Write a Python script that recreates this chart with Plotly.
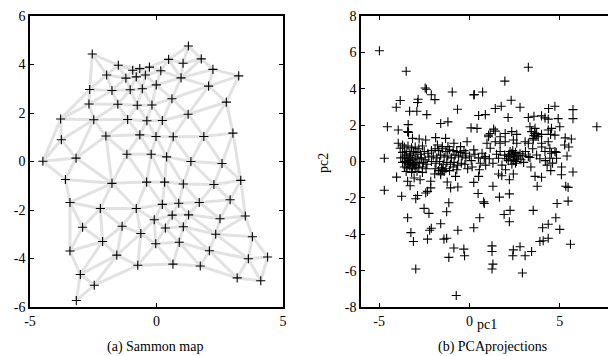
import plotly.graph_objects as go

# ---------------- data: (a) Sammon map (node positions) ----------------
sammon_x = [-2.54, 1.26, 1.77, 0.48, 1.05, -1.51, -0.94, -0.66, -0.28, 0.17,
            2.23, 3.25, -1.97, -1.21, -0.80, -0.44, 0.97, -0.01, 2.06, -2.64,
            -1.76, -1.04, -0.56, 0.61, 2.76, -2.67, -1.53, -0.76, -0.18, 1.25,
            -3.79, -2.48, -1.14, -0.38, 0.23, 3.02, -3.76, -2.00, -0.66, -0.02,
            0.66, 1.87, -4.49, -3.18, -1.17, -0.21, 0.40, 1.36, 2.59, 3.33,
            -3.60, -1.76, -0.39, 0.32, 1.06, 2.27, -3.42, -2.22, -0.80, 0.23,
            0.88, 1.69, 2.91, 0.62, 1.27, 3.51, -0.09, 2.51, -2.92, -1.36,
            0.35, 1.06, -0.62, 2.34, 3.79, -2.13, -0.03, 0.90, -3.42, 2.09,
            -1.57, 3.63, 4.39, -0.74, 0.65, 1.73, -3.01, -2.46, 3.19, 4.12,
            -3.17]
sammon_y = [4.43, 4.76, 4.23, 4.21, 4.05, 3.97, 3.76, 3.83, 3.89, 3.74,
            3.80, 3.53, 3.57, 3.44, 3.49, 3.57, 3.45, 3.16, 3.11, 2.97,
            2.93, 2.96, 3.00, 2.59, 2.45, 2.37, 2.36, 2.32, 2.33, 1.95,
            1.75, 1.72, 1.73, 1.68, 1.69, 1.17, 0.90, 1.05, 1.10, 1.03,
            1.02, 1.03, 0.01, 0.14, 0.30, 0.30, 0.19, 0.00, -0.08, -0.78,
            -0.74, -0.90, -0.85, -0.85, -0.93, -0.95, -1.69, -1.94, -1.94, -1.77,
            -1.72, -1.69, -1.58, -2.21, -2.20, -2.25, -2.40, -2.36, -2.71, -2.67,
            -2.74, -2.69, -2.97, -3.00, -3.10, -3.30, -3.39, -3.33, -3.69, -3.68,
            -3.86, -4.01, -3.94, -4.28, -4.23, -4.31, -4.66, -5.10, -4.80, -4.92,
            -5.73]

# ---------------- data: (b) PCA projections (pc1, pc2) ----------------
pca_upper = [(-4.98, 6.09), (-3.50, 4.96), (3.26, 5.18), (1.96, 4.42), (-2.45, 4.04),
             (-2.38, 3.97), (-2.11, 3.67), (-1.91, 3.40), (-2.84, 3.42), (-2.87, 3.24),
             (-3.83, 3.35), (-4.05, 2.98), (-3.31, 2.76), (-2.91, 2.76), (-2.36, 2.58),
             (-0.95, 3.82), (-0.66, 2.87), (0.24, 3.66), (0.27, 3.68), (0.73, 3.82),
             (0.51, 2.53), (0.88, 2.58), (1.43, 2.91), (1.76, 3.04), (2.31, 3.37),
             (2.80, 2.98), (2.14, 2.42), (3.26, 2.42), (3.57, 2.49), (3.99, 2.51),
             (4.18, 2.40), (4.36, 2.33), (4.38, 2.91), (4.73, 3.04), (5.73, 2.85),
             (5.73, 2.36), (4.91, 2.36), (7.05, 1.91), (-4.54, 1.91), (-3.94, 1.73),
             (-3.39, 2.03), (-3.42, 1.64), (-3.37, 1.60), (-1.59, 2.09), (-1.19, 2.18),
             (0.09, 1.85), (0.42, 1.82), (1.06, 1.45)]
pca_right_band = [(1.34, 1.78), (1.43, 1.67), (1.15, 1.54), (1.06, 1.36), (1.70, 1.36),
                  (1.98, 1.54), (2.34, 1.64), (2.62, 1.49), (1.43, 1.09), (1.70, 1.00),
                  (1.98, 1.09), (2.43, 1.18), (2.62, 1.00), (3.08, 1.09), (3.35, 1.91),
                  (3.63, 1.82), (3.44, 1.64), (3.72, 1.54), (3.53, 1.27), (3.81, 1.36),
                  (3.99, 1.49), (3.57, 1.42), (3.60, 1.55), (3.68, 1.40), (4.36, 1.73),
                  (4.54, 1.82), (4.49, 1.49), (4.73, 1.45), (5.00, 1.91), (5.27, 0.91),
                  (5.64, 1.24), (3.99, 1.00), (4.36, 1.09), (4.45, 0.73), (4.18, 0.55),
                  (4.54, 0.45), (4.73, 0.55), (3.26, 1.00), (3.53, 1.18), (3.26, 0.27),
                  (3.72, 0.36), (4.82, 0.18), (4.45, 0.18), (1.15, 0.73), (1.70, 0.55),
                  (1.61, 0.18), (0.88, 0.27), (0.97, 1.00), (0.24, 0.64)]
pca_right_cluster = [(2.25, 0.55), (2.43, 0.36), (2.16, 0.27), (2.62, 0.18), (2.80, 0.45),
                     (2.35, 0.45), (2.50, 0.25), (2.30, 0.10), (2.55, 0.50), (2.45, 0.05),
                     (2.20, 0.40), (2.70, 0.30), (2.40, 0.60), (2.60, 0.00), (2.15, 0.05),
                     (2.85, 0.10), (2.35, -0.15), (2.55, -0.10), (2.05, 0.15), (3.00, -0.05),
                     (2.95, 0.35), (0.55, -0.45), (0.90, -0.20), (1.10, 0.15), (1.30, -0.10),
                     (1.50, 0.40), (1.80, -0.20), (1.95, 0.35), (2.00, -0.45), (3.10, 0.55),
                     (3.40, -0.30), (3.90, 0.15), (4.20, 0.05), (4.50, -0.50), (5.10, -0.30),
                     (4.80, 0.50), (5.40, 0.30), (3.50, 0.70), (4.00, 0.80), (4.30, -0.20),
                     (5.30, 1.30), (5.50, 0.80)]
pca_left_band = [(-3.94, 1.00), (-3.70, 0.91), (-3.83, 0.73), (-3.15, 1.27), (-2.78, 1.24),
                 (-2.42, 1.18), (-1.87, 1.31), (-1.32, 1.27), (-1.77, 0.91), (-1.50, 0.82),
                 (-1.19, 0.82), (-0.86, 1.00), (-0.49, 0.82), (-0.13, 1.09), (-4.71, 0.18)]
pca_left_cluster = [(-3.60, 0.80), (-3.40, 0.85), (-3.20, 0.75), (-3.00, 0.80), (-2.80, 0.70),
                    (-2.60, 0.85), (-3.70, 0.50), (-3.50, 0.55), (-3.30, 0.45), (-3.10, 0.55),
                    (-2.90, 0.50), (-2.70, 0.40), (-2.50, 0.55), (-2.30, 0.45), (-3.80, 0.20),
                    (-3.60, 0.25), (-3.45, 0.15), (-3.30, 0.20), (-3.15, 0.10), (-3.00, 0.25),
                    (-2.85, 0.15), (-2.65, 0.20), (-2.45, 0.10), (-2.25, 0.25), (-3.70, -0.05),
                    (-3.55, 0.00), (-3.40, -0.10), (-3.25, -0.05), (-3.10, -0.15), (-2.95, -0.05),
                    (-2.75, -0.10), (-2.55, -0.05), (-2.35, -0.15), (-3.60, -0.30), (-3.45, -0.35),
                    (-3.30, -0.25), (-3.15, -0.40), (-3.00, -0.30), (-2.80, -0.35), (-2.60, -0.30),
                    (-2.40, -0.40), (-3.50, -0.55), (-3.20, -0.60), (-2.90, -0.55), (-2.60, -0.60),
                    (-3.35, 0.05), (-3.25, 0.35), (-3.05, -0.20), (-3.35, -0.15), (-3.50, 0.35)]
pca_mid_cluster = [(-2.10, 0.60), (-1.90, 0.70), (-1.70, 0.60), (-1.50, 0.70), (-1.30, 0.55),
                   (-1.10, 0.65), (-0.90, 0.60), (-0.70, 0.55), (-0.50, 0.50), (-0.30, 0.60),
                   (-2.00, 0.30), (-1.80, 0.20), (-1.60, 0.35), (-1.40, 0.25), (-1.20, 0.30),
                   (-1.00, 0.20), (-0.80, 0.35), (-0.60, 0.25), (-0.40, 0.30), (-0.20, 0.20),
                   (-2.10, 0.00), (-1.85, -0.10), (-1.65, 0.00), (-1.45, -0.15), (-1.25, -0.05),
                   (-1.05, -0.15), (-0.85, -0.05), (-0.65, -0.20), (-0.45, -0.10), (-0.25, -0.15),
                   (-1.90, -0.40), (-1.70, -0.50), (-1.55, -0.35), (-1.40, -0.55), (-1.60, -0.65),
                   (-1.50, -0.45), (-1.30, -0.40), (-1.10, -0.50), (-0.90, -0.30), (-0.70, -0.45),
                   (-0.20, 0.45), (0.00, 0.30), (0.10, 0.05), (0.15, -0.30), (-0.10, -0.40),
                   (0.30, 0.40), (0.50, 0.20), (0.60, -0.10), (0.70, 0.45)]
pca_lower = [(-4.71, -1.58), (-4.03, -0.86), (-3.75, -1.91), (-3.42, -1.09), (-3.28, -1.33),
             (-3.06, -0.91), (-2.73, -1.00), (-2.87, -1.87), (-2.97, -2.05), (-2.42, -1.73),
             (-2.14, -1.09), (-2.14, -1.45), (-2.51, -2.58), (-2.24, -2.85), (-3.42, -3.09),
             (-2.32, -1.64), (-1.92, -0.69), (-1.59, -0.73), (-1.50, -0.51), (-1.23, -1.13),
             (-1.04, -1.45), (-0.64, -1.40), (-0.77, -0.82), (-1.14, -2.27), (-1.26, -2.76),
             (-1.59, -3.42), (-2.11, -3.67), (-2.20, -3.78), (-3.24, -3.91), (-3.10, -4.40),
             (-2.32, -4.27), (-1.41, -4.27), (-1.26, -4.22), (-0.64, -3.78), (-0.86, -4.76),
             (-1.14, -5.27), (-0.31, -4.82), (-0.27, -5.18), (-2.97, -5.91), (-0.73, -7.37),
             (0.24, -3.64), (0.57, -3.09), (0.82, -2.31), (0.48, -1.76), (0.24, -1.15),
             (0.51, -0.82), (0.79, -2.22), (1.30, -1.36), (1.61, -0.69), (1.79, -0.78),
             (1.66, -1.96), (2.21, -1.78), (2.21, -1.00), (2.43, -0.69), (1.92, -2.91),
             (2.25, -2.69), (2.21, -3.31), (3.53, -2.69), (3.75, -1.36), (3.63, -0.82),
             (3.99, -0.87), (3.35, 0.22), (4.60, -0.09), (5.09, -0.73), (5.73, -0.58),
             (5.33, -1.36), (5.46, -1.42), (5.46, -2.18), (4.85, -2.31), (4.78, -3.09),
             (5.00, -3.73), (4.36, -3.45), (4.05, -3.64), (4.36, -4.22), (4.08, -4.36),
             (3.90, -4.40), (5.59, -4.55), (1.25, -4.64), (1.25, -4.95), (1.30, -5.64),
             (1.25, -5.91), (2.43, -4.86), (2.40, -5.18), (2.80, -4.69), (3.08, -5.18),
             (3.44, -4.95), (2.93, -6.13), (0.82, 0.18)]

left_xticks = [-5, 0, 5]
left_yticks = [-6, -4, -2, 0, 2, 4, 6]
right_xticks = [-5, 0, 5]
right_yticks = [-8, -6, -4, -2, 0, 2, 4, 6, 8]


# ---------------- mesh connectivity (Delaunay of the map nodes) ----------------
def delaunay(xs, ys):
    n = len(xs)
    pts = [(xs[i], ys[i]) for i in range(n)]
    big = 1000.0
    pts += [(-big, -big), (big, -big), (0.0, big)]

    def circ(t):
        (ax, ay), (bx, by), (cx, cy) = pts[t[0]], pts[t[1]], pts[t[2]]
        d = 2 * (ax * (by - cy) + bx * (cy - ay) + cx * (ay - by))
        ux = ((ax * ax + ay * ay) * (by - cy) + (bx * bx + by * by) * (cy - ay) + (cx * cx + cy * cy) * (ay - by)) / d
        uy = ((ax * ax + ay * ay) * (cx - bx) + (bx * bx + by * by) * (ax - cx) + (cx * cx + cy * cy) * (bx - ax)) / d
        return ux, uy, (ax - ux) ** 2 + (ay - uy) ** 2

    tris = {(n, n + 1, n + 2): circ((n, n + 1, n + 2))}
    for i in range(n):
        px, py = pts[i]
        bad = [t for t, (ux, uy, r2) in tris.items() if (px - ux) ** 2 + (py - uy) ** 2 < r2]
        ecount = {}
        for t in bad:
            for e in ((t[0], t[1]), (t[1], t[2]), (t[2], t[0])):
                k = tuple(sorted(e))
                ecount[k] = ecount.get(k, 0) + 1
        for t in bad:
            del tris[t]
        for e, c in ecount.items():
            if c == 1:
                t = (e[0], e[1], i)
                tris[t] = circ(t)
    out = []
    for t, (ux, uy, r2) in tris.items():
        if max(t) >= n:
            continue
        if r2 ** 0.5 > 1.45:
            continue
        out.append(t)
    return out


edges = set()
for t in delaunay(sammon_x, sammon_y):
    for a, b in ((t[0], t[1]), (t[1], t[2]), (t[2], t[0])):
        edges.add((min(a, b), max(a, b)))

ex, ey = [], []
for a, b in sorted(edges):
    ex += [sammon_x[a], sammon_x[b], None]
    ey += [sammon_y[a], sammon_y[b], None]

pca_all = pca_upper + pca_right_band + pca_right_cluster + pca_left_band + pca_left_cluster + pca_mid_cluster + pca_lower
pc1 = [p[0] for p in pca_all]
pc2 = [p[1] for p in pca_all]

FONT = "Liberation Serif"
marker = dict(symbol="cross-thin", size=6.5, color="black", line=dict(color="black", width=1.1))

# the page body has an 8 px margin, so the figure is laid out in a 608 x 348 box
W, H = 608, 348

fig = go.Figure()
fig.add_trace(go.Scatter(x=ex, y=ey, mode="lines", line=dict(color="#e2e2e2", width=3),
                         hoverinfo="skip", showlegend=False, xaxis="x", yaxis="y"))
fig.add_trace(go.Scatter(x=sammon_x, y=sammon_y, mode="markers", marker=marker,
                         showlegend=False, xaxis="x", yaxis="y"))
fig.add_trace(go.Scatter(x=pc1, y=pc2, mode="markers", marker=marker,
                         showlegend=False, xaxis="x2", yaxis="y2"))

ax_common = dict(showgrid=False, zeroline=False, showline=True, linecolor="black", linewidth=1.5,
                 mirror="ticks", ticks="inside", ticklen=4, tickcolor="black", tickwidth=1,
                 automargin=False, ticklabeloverflow="allow",
                 tickfont=dict(family=FONT, size=14, color="black"))
ydom = [49 / H, 340 / H]

fig.update_layout(
    width=W, height=H,
    margin=dict(l=0, r=0, t=0, b=0),
    paper_bgcolor="white", plot_bgcolor="white",
    xaxis=dict(domain=[22 / W, 275 / W], range=[-5, 5], tickvals=left_xticks,
               ticktext=[str(v) for v in left_xticks], anchor="y", **ax_common),
    yaxis=dict(domain=ydom, range=[-6, 6], tickvals=left_yticks,
               ticktext=[str(v) for v in left_yticks], anchor="x", **ax_common),
    xaxis2=dict(domain=[353 / W, 606 / W], range=[-6, 8], tickvals=right_xticks,
                ticktext=[str(v) for v in right_xticks], anchor="y2", **ax_common),
    yaxis2=dict(domain=ydom, range=[-8, 8], tickvals=right_yticks,
                ticktext=[str(v) for v in right_yticks], anchor="x2", **ax_common),
    annotations=[
        dict(text="(a) Sammon map", x=147 / W, y=9 / H, xref="paper", yref="paper",
             xanchor="center", yanchor="middle", showarrow=False,
             font=dict(family=FONT, size=14, color="black")),
        dict(text="(b) PCAprojections", x=484 / W, y=9 / H, xref="paper", yref="paper",
             xanchor="center", yanchor="middle", showarrow=False,
             font=dict(family=FONT, size=14, color="black")),
        dict(text="pc1", x=479 / W, y=32 / H, xref="paper", yref="paper",
             xanchor="center", yanchor="middle", showarrow=False,
             font=dict(family=FONT, size=14, color="black")),
        dict(text="pc2", x=315 / W, y=193 / H, xref="paper", yref="paper",
             xanchor="center", yanchor="middle", showarrow=False, textangle=-90,
             font=dict(family=FONT, size=14, color="black")),
    ],
)

fig.write_html("out.html")
